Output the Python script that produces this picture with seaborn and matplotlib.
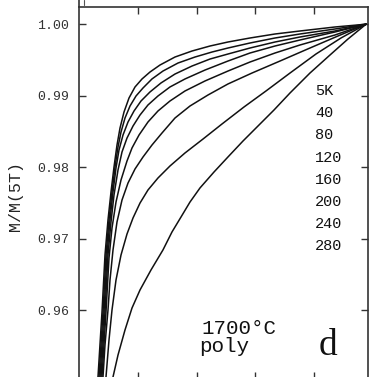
import matplotlib
matplotlib.use("Agg")
import matplotlib.pyplot as plt
from matplotlib.lines import Line2D
import seaborn as sns
import pandas as pd

# ---- data (field in T, M/M(5T)) ----
temps = ["5K", "40", "80", "120", "160", "200", "240", "280"]

field_5 = [0.326, 0.394, 0.445, 0.496, 0.547, 0.598, 0.649, 0.700, 0.768, 0.853, 0.955, 1.074, 1.209,
           1.379, 1.634, 1.923, 2.229, 2.534, 2.908, 3.333, 3.757, 4.352, 4.88]
m_5 = [0.95066, 0.95975, 0.96772, 0.97262, 0.97653, 0.98003, 0.98310, 0.98548, 0.98772, 0.98968, 0.99122,
       0.99234, 0.99331, 0.99429, 0.99541, 0.99625, 0.99695, 0.99751, 0.99807, 0.99863, 0.99905, 0.99961, 1.0]

field_40 = [0.343, 0.411, 0.462, 0.513, 0.564, 0.615, 0.666, 0.717, 0.785, 0.870, 0.972, 1.091, 1.243,
            1.430, 1.685, 1.974, 2.263, 2.534, 2.908, 3.333, 3.757, 4.352, 4.88]
m_40 = [0.95066, 0.95975, 0.96772, 0.97262, 0.97653, 0.98003, 0.98283, 0.98492, 0.98688, 0.98856, 0.98996,
        0.99108, 0.99234, 0.99345, 0.99457, 0.99541, 0.99611, 0.99667, 0.99737, 0.99807, 0.99863, 0.99933, 1.0]

field_80 = [0.360, 0.428, 0.479, 0.530, 0.581, 0.632, 0.683, 0.751, 0.836, 0.938, 1.057, 1.209, 1.396,
            1.634, 1.923, 2.229, 2.534, 2.908, 3.333, 3.757, 4.352, 4.88]
m_80 = [0.95066, 0.95975, 0.96772, 0.97262, 0.97653, 0.97989, 0.98241, 0.98450, 0.98632, 0.98786, 0.98926,
        0.99052, 0.99178, 0.99303, 0.99415, 0.99513, 0.99583, 0.99667, 0.99751, 0.99821, 0.99905, 1.0]

field_120 = [0.377, 0.445, 0.496, 0.547, 0.598, 0.666, 0.734, 0.819, 0.921, 1.040, 1.175, 1.345, 1.549,
             1.804, 2.144, 2.534, 2.908, 3.333, 3.757, 4.352, 4.88]
m_120 = [0.95066, 0.95975, 0.96772, 0.97234, 0.97611, 0.97961, 0.98213, 0.98408, 0.98576, 0.98730, 0.98870,
         0.98996, 0.99122, 0.99234, 0.99359, 0.99485, 0.99597, 0.99695, 0.99779, 0.99891, 1.0]

field_160 = [0.394, 0.462, 0.513, 0.564, 0.632, 0.717, 0.819, 0.904, 1.023, 1.175, 1.345, 1.549, 1.804,
             2.144, 2.534, 2.908, 3.333, 3.757, 4.352, 4.88]
m_160 = [0.95066, 0.95975, 0.96730, 0.97150, 0.97513, 0.97821, 0.98087, 0.98269, 0.98450, 0.98632, 0.98786,
         0.98926, 0.99066, 0.99206, 0.99345, 0.99471, 0.99597, 0.99709, 0.99849, 1.0]

field_200 = [0.411, 0.445, 0.496, 0.530, 0.581, 0.649, 0.734, 0.836, 0.955, 1.091, 1.243, 1.413, 1.634,
             1.889, 2.195, 2.534, 2.942, 3.418, 3.927, 4.403, 4.88]
m_200 = [0.95066, 0.95513, 0.96003, 0.96422, 0.96842, 0.97234, 0.97541, 0.97779, 0.97975, 0.98143, 0.98310,
         0.98478, 0.98688, 0.98856, 0.99010, 0.99164, 0.99317, 0.99485, 0.99667, 0.99835, 1.0]

field_240 = [0.462, 0.513, 0.564, 0.632, 0.717, 0.819, 0.921, 1.040, 1.175, 1.345, 1.549, 1.804, 2.110,
             2.432, 2.806, 3.180, 3.588, 4.029, 4.454, 4.88]
m_240 = [0.95066, 0.95583, 0.96003, 0.96422, 0.96772, 0.97066, 0.97290, 0.97499, 0.97681, 0.97849, 0.98017,
         0.98199, 0.98394, 0.98604, 0.98842, 0.99066, 0.99317, 0.99583, 0.99807, 1.0]

field_280 = [0.581, 0.666, 0.785, 0.904, 1.040, 1.226, 1.430, 1.583, 1.736, 1.889, 2.059, 2.297, 2.534,
             2.789, 3.044, 3.316, 3.588, 3.927, 4.267, 4.573, 4.88]
m_280 = [0.95066, 0.95373, 0.95724, 0.96031, 0.96283, 0.96562, 0.96843, 0.97094, 0.97303, 0.97513, 0.97710,
         0.97933, 0.98143, 0.98366, 0.98576, 0.98800, 0.99038, 0.99317, 0.99569, 0.99793, 1.0]

yticks = [0.96, 0.97, 0.98, 0.99, 1.00]
ytick_labels = ["0.96", "0.97", "0.98", "0.99", "1.00"]
xticks = [1, 2, 3, 4]

fields = [field_5, field_40, field_80, field_120, field_160, field_200, field_240, field_280]
mags = [m_5, m_40, m_80, m_120, m_160, m_200, m_240, m_280]
rows = []
for t, fx, my in zip(temps, fields, mags):
    for a, b in zip(fx, my):
        rows.append({"field": a, "m": b, "T": t})
df = pd.DataFrame(rows)

sns.set_theme(style="white")
plt.rcParams["font.family"] = ["Liberation Mono", "DejaVu Sans"]

W, H = 372, 377
fig = plt.figure(figsize=(W / 100, H / 100), dpi=100)
left_px, right_px, top_px, bot_px = 78.8, 368.0, 6.5, 379.0
ax = fig.add_axes([left_px / W, 1 - bot_px / H, (right_px - left_px) / W, (bot_px - top_px) / H])

sns.lineplot(data=df, x="field", y="m", units="T", estimator=None, sort=False,
             color="#111111", linewidth=1.1, ax=ax, legend=False)

ax.set_xlim(0, 4.913)
ax.set_ylim(0.950378, 1.002476)
ax.set_xticks(xticks)
ax.set_xticklabels([])
ax.set_yticks(yticks)
ax.set_yticklabels(ytick_labels, fontsize=9.5, color="#333333")
ax.tick_params(direction="in", length=5, width=1.0, color="#333333",
               top=True, right=True, bottom=True, left=True, pad=7)
ax.set_xlabel("")
ax.set_ylabel("")
for s in ax.spines.values():
    s.set_color("#333333")
    s.set_linewidth(1.2)

# bits of the panel above, peeking in at the top edge
fig.add_artist(Line2D([left_px / W, left_px / W], [1 - top_px / H, 1.0], color="#333333", lw=1.2))
fig.add_artist(Line2D([84 / W, 84 / W], [1 - 5 / H, 1.0], color="#555555", lw=0.8))

fig.text(16 / W, 1 - 196 / H, "M/M(5T)", rotation=90, ha="center", va="center",
         fontsize=12, color="#222222")

def axpos(px, py):
    return ((px - left_px) / (right_px - left_px), (bot_px - py) / (bot_px - top_px))

label_y = [91, 113, 135, 158, 180, 202, 224, 246]
for t, py in zip(temps, label_y):
    x0, y0 = axpos(315, py)
    ax.text(x0, y0, t, transform=ax.transAxes, ha="left", va="center",
            fontsize=11, color="#111111")

x0, y0 = axpos(201, 334)
ax.text(x0, y0, "1700°C", transform=ax.transAxes, ha="left", va="baseline",
        fontsize=15, color="#111111")
x0, y0 = axpos(199, 352)
ax.text(x0, y0, "poly", transform=ax.transAxes, ha="left", va="baseline",
        fontsize=15, color="#111111")
x0, y0 = axpos(319, 355)
ax.text(x0, y0, "d", transform=ax.transAxes, ha="left", va="baseline",
        fontsize=27, color="#111111", family="Liberation Serif")

fig.savefig("out.png", dpi=100)
